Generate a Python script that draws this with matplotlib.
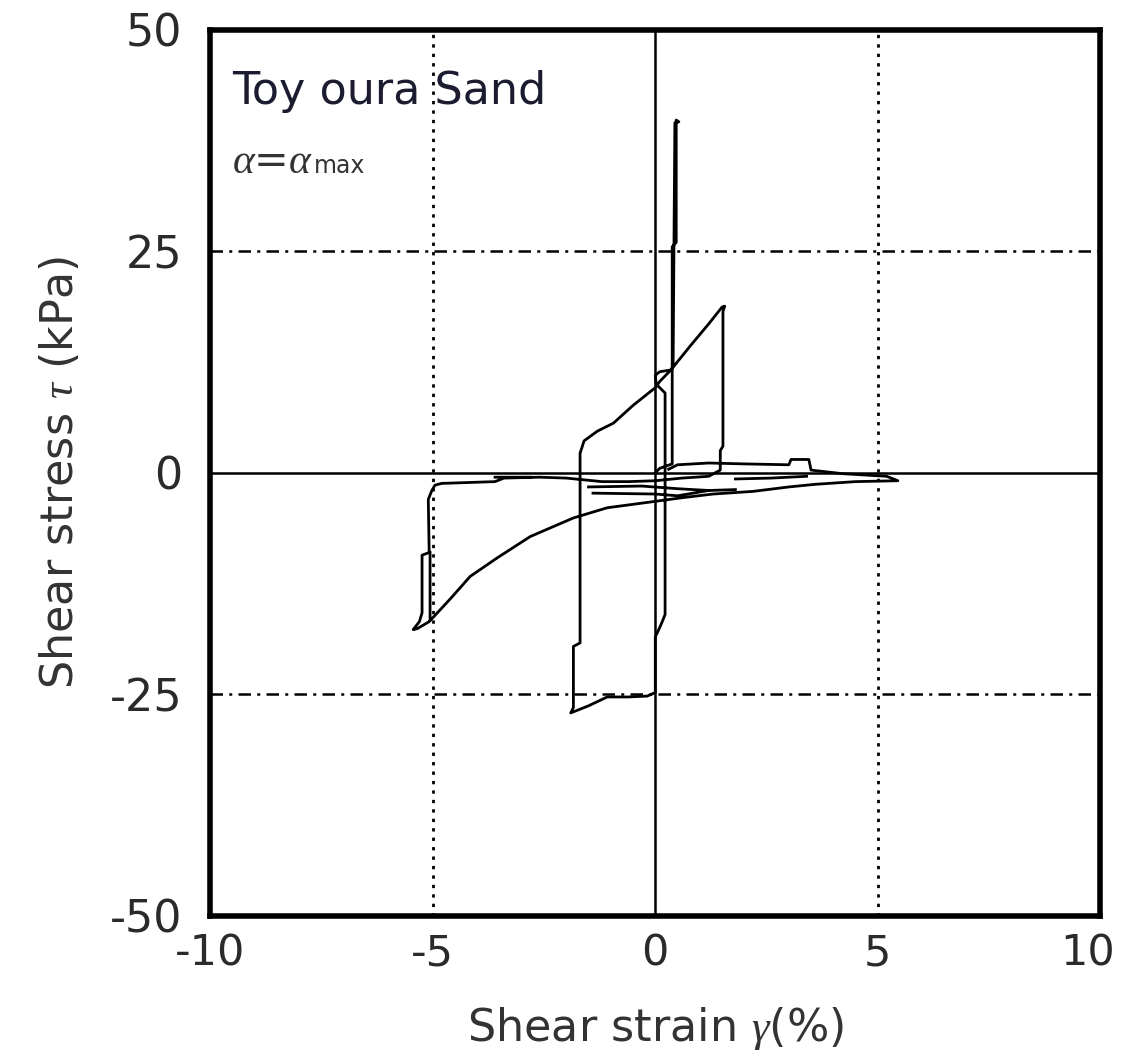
import numpy as np
import matplotlib
matplotlib.use("Agg")
import matplotlib.pyplot as plt
import matplotlib.transforms as mtransforms

plt.rcParams['font.family'] = ['DejaVu Sans']
plt.rcParams['axes.unicode_minus'] = False
plt.rcParams['mathtext.fontset'] = 'custom'
plt.rcParams['mathtext.rm'] = 'DejaVu Sans'
plt.rcParams['mathtext.it'] = 'Liberation Serif:italic'

# Stress-strain path of the cyclic simple shear test (NaN separates strands)
strain = [
    0.00, 0.10, 0.38, 0.38, 0.47, 0.47, 0.53,
    0.44, 0.42, 0.40, 0.35, 0.10, 0.00, 0.02, 0.22, 0.22, 0.14, 0.05, 0.00, 0.00,
    -0.18, -0.60, -1.08, -1.50, -1.90,
    -1.84, -1.84, -1.69, -1.69, -1.60, -1.30, -0.94, -0.50, 0.00, 0.10, 0.35,
    0.80, 1.20, 1.50, 1.56, 1.52, 1.52, 1.46, 1.46,
    1.20, 0.60, 0.00, -0.60, -1.20, -2.00, -2.60, -3.40, -3.60, -4.80, -4.95,
    -5.02, -5.10, -5.08, -5.24, -5.24, -5.30, -5.44,
    -5.35, -5.08, -4.60, -4.16, -3.55, -2.81, -1.84, -1.08, -0.11, 0.63,
    1.30, 2.20, 3.00, 3.60, 4.50, 5.45, 5.20, 4.20, 3.50, 3.45, 3.05, 3.00,
    2.00, 1.20, 0.50, 0.30,
    np.nan, -5.06, -5.06,
    np.nan, -1.50, -0.30, 0.50, 1.20, 1.80,
    np.nan, -1.40, 0.00, 0.50, 1.20,
    np.nan, -3.60, -2.80,
    np.nan, 1.80, 2.60, 3.40,
]
stress = [
    0.0, 0.5, 1.0, 25.5, 26.0, 39.8, 39.6,
    39.5, 26.0, 12.0, 11.6, 11.4, 11.0, 10.0, 9.0, -16.0, -17.0, -18.0, -18.5, -24.8,
    -25.2, -25.3, -25.3, -26.3, -27.1,
    -26.5, -19.6, -19.2, 2.2, 3.6, 4.7, 5.6, 7.6, 9.6, 10.3, 11.6,
    14.4, 16.8, 18.7, 18.8, 18.2, 3.0, 2.5, 0.3,
    -0.4, -0.6, -0.9, -1.0, -1.0, -0.6, -0.5, -0.6, -1.0, -1.2, -1.4,
    -2.0, -3.0, -9.0, -9.3, -15.8, -16.8, -17.7,
    -17.6, -16.8, -14.2, -11.7, -9.6, -7.2, -5.1, -3.95, -3.3, -2.8,
    -2.4, -2.1, -1.6, -1.3, -1.0, -0.9, -0.4, -0.1, 0.3, 1.5, 1.5, 0.9,
    1.0, 1.1, 0.9, 0.4,
    np.nan, -9.0, -16.6,
    np.nan, -1.6, -1.5, -1.8, -2.0, -1.9,
    np.nan, -2.3, -2.4, -2.6, -2.0,
    np.nan, -0.5, -0.5,
    np.nan, -0.7, -0.6, -0.4,
]

x_ticks = [-10, -5, 0, 5, 10]
y_ticks = [-50, -25, 0, 25, 50]

fig = plt.figure(figsize=(11.24, 10.60), dpi=100)
ax = fig.add_axes([0.187, 0.136, 0.792, 0.836])

ax.set_xlim(-10, 10)
ax.set_ylim(-50, 50)

# reference grid: solid zero lines, dotted ±5 %, dash-dot ±25 kPa
ax.axvline(0, color='black', lw=1.8, zorder=1)
ax.axhline(0, color='black', lw=1.8, zorder=1)
for xv in (-5, 5):
    ax.axvline(xv, color='black', lw=2.0, linestyle=(0, (1.2, 2.2)), zorder=1)
for yv in (-25, 25):
    ax.axhline(yv, color='black', lw=1.8, linestyle=(0, (5, 2.5, 1.2, 2.5)), zorder=1)

ax.plot(strain, stress, color='black', lw=2.0, zorder=3)

ax.set_xticks(x_ticks)
ax.set_yticks(y_ticks)
ax.tick_params(length=0, labelsize=31, colors='#2a2a2a', pad=12)
ax.tick_params(axis='y', labelsize=32, pad=20)
for s in ax.spines.values():
    s.set_linewidth(4)
    s.set_color('black')

# keep the last x tick label inside the figure
last = ax.get_xticklabels()[-1]
last.set_transform(last.get_transform() +
                   mtransforms.ScaledTranslation(-9 / 72, 0, fig.dpi_scale_trans))

ax.set_xlabel(r"Shear strain $\gamma$(%)", fontsize=32, color='#333333', labelpad=22)
ax.set_ylabel(r"Shear stress $\tau$ (kPa)", fontsize=32, color='#333333', labelpad=20)

ax.text(0.025, 0.916, "Toy oura Sand", transform=ax.transAxes, fontsize=32,
        color='#1c1c30', va='baseline', ha='left')
ax.text(0.025, 0.838, r"$\alpha$=$\alpha$", transform=ax.transAxes, fontsize=30,
        color='#333333', va='baseline', ha='left')
ax.text(0.117, 0.838, "max", transform=ax.transAxes, fontsize=17,
        color='#333333', va='baseline', ha='left')

fig.savefig("out.png", dpi=100, facecolor='white')
